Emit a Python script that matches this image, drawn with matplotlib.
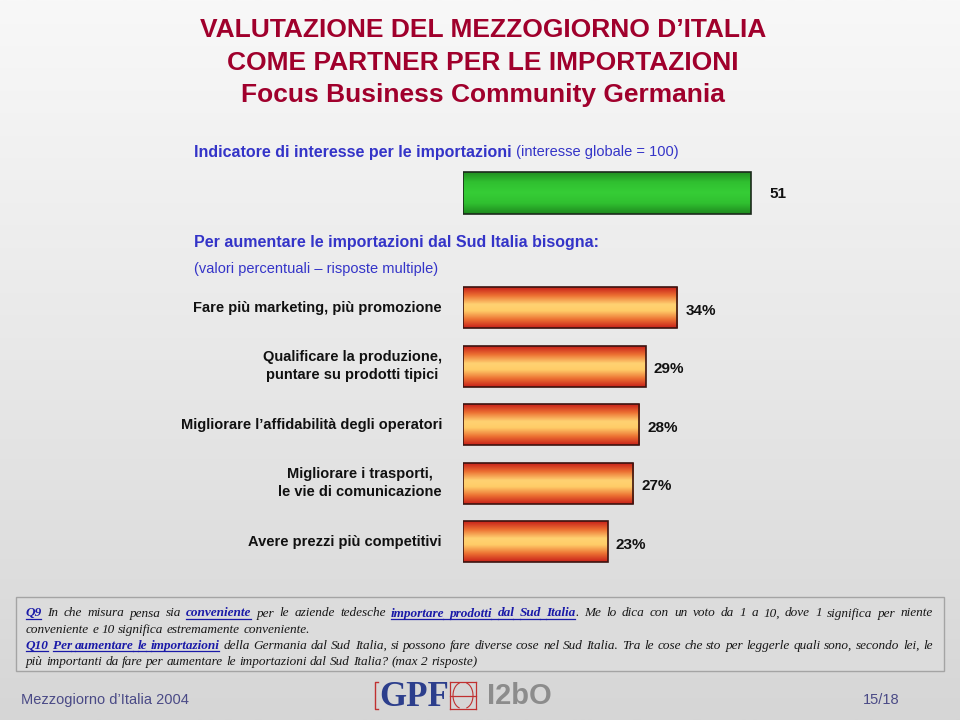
import numpy as np
import matplotlib
matplotlib.use('Agg')
import matplotlib.pyplot as plt
from matplotlib.colors import LinearSegmentedColormap
from matplotlib.patches import Rectangle

W, H = 960, 720

# ---- data ----
title_lines = ['VALUTAZIONE DEL MEZZOGIORNO D\u2019ITALIA',
               'COME PARTNER PER LE IMPORTAZIONI',
               'Focus Business Community Germania']
index_label = 'Indicatore di interesse per le importazioni'
index_note = ' (interesse globale = 100)'
index_value = [51]
section_label = 'Per aumentare le importazioni dal Sud Italia bisogna:'
section_note = '(valori percentuali \u2013 risposte multiple)'
categories = ['Fare più marketing, più promozione',
              'Qualificare la produzione,\npuntare su prodotti tipici',
              'Migliorare l\u2019affidabilità degli operatori',
              'Migliorare i trasporti,\nle vie di comunicazione',
              'Avere prezzi più competitivi']
values = [34, 29, 28, 27, 23]

# box notes: (segments, justified); 'b' = blue bold underlined
q_lines = [
    ([('Q9', 'b'), (' In che misura pensa sia ', 'n'), ('conveniente', 'b'),
      (' per le aziende tedesche ', 'n'), ('importare prodotti dal Sud Italia', 'b'),
      ('. Me lo dica con un voto da 1 a 10, dove 1 significa per niente', 'n')], True),
    ([('conveniente e 10 significa estremamente conveniente.', 'n')], False),
    ([('Q10', 'b'), (' ', 'n'), ('Per aumentare le importazioni', 'b'),
      (' della Germania dal Sud Italia, si possono fare diverse cose nel Sud Italia. '
       'Tra le cose che sto per leggerle quali sono, secondo lei, le', 'n')], True),
    ([('più importanti da fare per aumentare le importazioni dal Sud Italia? (max 2 risposte)', 'n')], False),
]
footer_left = 'Mezzogiorno d\u2019Italia 2004'
footer_right = '15/18'

SANS = 'Liberation Sans'
SERIF = 'Liberation Serif'
RED = '#a0002c'
BLUE = '#3434c8'

fig = plt.figure(figsize=(W / 100, H / 100), dpi=100)
bg = fig.add_axes([0, 0, 1, 1])
bg.axis('off')
bg_cmap = LinearSegmentedColormap.from_list('bg', ['#f8f8f8', '#e8e8e8', '#d6d6d6'])
bg.imshow(np.linspace(0, 1, 256).reshape(-1, 1), extent=[0, W, H, 0], cmap=bg_cmap,
          aspect='auto', zorder=0)
bg.set_xlim(0, W)
bg.set_ylim(H, 0)
renderer = fig.canvas.get_renderer()


def width_of(t):
    return t.get_window_extent(renderer).width


# titles
for k, line in enumerate(title_lines):
    bg.text(483, 30 + k * 32.5, line, ha='center', va='center', fontsize=19,
            fontweight='bold', color=RED, family=SANS)

# blue headings
t = bg.text(194, 152, index_label, ha='left', va='center', fontsize=11.5,
            fontweight='bold', color=BLUE, family=SANS)
bg.text(194 + width_of(t), 152, index_note, ha='left', va='center', fontsize=10.5,
        color=BLUE, family=SANS)
bg.text(194, 243, section_label, ha='left', va='center', fontsize=11.5,
        fontweight='bold', color=BLUE, family=SANS)
bg.text(194, 269, section_note, ha='left', va='center', fontsize=10.5,
        color=BLUE, family=SANS)

# ---- green index bar ----
gscale = 288 / 51.0
ax_g = fig.add_axes([463 / W, (H - 236) / H, 60 * gscale / W, 86 / H])
ax_g.patch.set_alpha(0)
ax_g.axis('off')
g_cmap = LinearSegmentedColormap.from_list('g', [(0, '#1f8a1f'), (0.25, '#30c030'),
                                                  (0.5, '#36cd36'), (0.75, '#30c030'),
                                                  (1, '#1f8a1f')])
gb = ax_g.barh([0], index_value, height=1.0, facecolor='none', edgecolor='#1c2a1c',
               linewidth=1.2, zorder=3)
for p in gb.patches:
    im = ax_g.imshow(np.linspace(0, 1, 64).reshape(-1, 1), cmap=g_cmap, aspect='auto',
                     extent=[p.get_x(), p.get_x() + p.get_width(), p.get_y(),
                             p.get_y() + p.get_height()], zorder=2)
    im.set_clip_path(p)
ax_g.set_xlim(0, 60)
ax_g.set_ylim(1, -1)
ax_g.text(index_value[0] + 18 / gscale, 0.02, str(index_value[0]), ha='left', va='center',
          fontsize=11, fontweight='bold', color='#111111', family=SANS)

# ---- orange bars ----
oscale = 6.3
pitch = 58.5
ax_o = fig.add_axes([463 / W, (H - 571) / H, 50 * oscale / W, 5 * pitch / H])
ax_o.patch.set_alpha(0)
ax_o.axis('off')
o_cmap = LinearSegmentedColormap.from_list('o', [(0, '#c8221a'), (0.2, '#ec7032'),
                                                  (0.42, '#ffcc68'), (0.58, '#ffd272'),
                                                  (0.8, '#ec7032'), (1, '#c8221a')])
ypos = np.arange(len(values))
ob = ax_o.barh(ypos, values, height=41 / pitch, facecolor='none', edgecolor='#3c1410',
               linewidth=1.2, zorder=3)
for p in ob.patches:
    im = ax_o.imshow(np.linspace(0, 1, 64).reshape(-1, 1), cmap=o_cmap, aspect='auto',
                     extent=[p.get_x(), p.get_x() + p.get_width(), p.get_y(),
                             p.get_y() + p.get_height()], zorder=2)
    im.set_clip_path(p)
ax_o.set_xlim(0, 50)
ax_o.set_ylim(len(values) - 0.5, -0.5)
for i, (lab, v) in enumerate(zip(categories, values)):
    ax_o.text(-21 / oscale, i, lab, ha='right', va='center', multialignment='center',
              fontsize=10.5, fontweight='bold', color='#111111', family=SANS,
              linespacing=1.35)
    ax_o.text(v + 8 / oscale, i + 3 / pitch, f'{v}%', ha='left', va='center',
              fontsize=11, fontweight='bold', color='#111111', family=SANS)

# ---- notes box ----
bg.add_patch(Rectangle((16, 597), 928, 74, facecolor='#dcdcdc', edgecolor='#a4a4a4',
                       linewidth=1.0, zorder=1))
QFS = 9.5
NBLUE = '#1a1aa8'


def layout_line(segs, y, justify, x_left=26, x_right=933):
    chars = []
    for txt, st in segs:
        chars += [(c, st) for c in txt]
    words, seps, cur, pend = [], [], [], None
    for c, st in chars:
        if c == ' ':
            if cur:
                words.append(cur)
                cur = []
            pend = st
            continue
        if not cur:
            seps.append(pend)
        if cur and cur[-1][1] == st:
            cur[-1][0] += c
        else:
            cur.append([c, st])
    if cur:
        words.append(cur)
    arts = []
    total = 0
    for w in words:
        wa = []
        for txt, st in w:
            if st == 'b':
                a = bg.text(0, y, txt, fontsize=QFS, family=SERIF, style='italic',
                            fontweight='bold', color=NBLUE, va='baseline', zorder=3)
            else:
                a = bg.text(0, y, txt, fontsize=QFS, family=SERIF, style='italic',
                            color='#161616', va='baseline', zorder=3)
            wd = width_of(a)
            total += wd
            wa.append((a, wd, st))
        arts.append(wa)
    gap = QFS * 0.25 * 100 / 72
    if justify and len(words) > 1:
        gap = max(1.5, (x_right - x_left - total) / (len(words) - 1))
    x = x_left
    prev_end = None
    for k, wa in enumerate(arts):
        if k > 0:
            x += gap
        if seps[k] == 'b' and prev_end is not None:
            bg.plot([prev_end, x], [y + 2.3, y + 2.3], color=NBLUE, lw=0.9, zorder=3)
        for a, wd, st in wa:
            a.set_x(x)
            if st == 'b':
                bg.plot([x, x + wd - 1], [y + 2.3, y + 2.3], color=NBLUE, lw=0.9, zorder=3)
            x += wd
        prev_end = x - 1


for k, (segs, just) in enumerate(q_lines):
    layout_line(segs, 616.5 + k * 16.3, just)

# ---- footer ----
bg.text(21, 700, footer_left, ha='left', va='center', fontsize=10.5, color='#4a4a86',
        family=SANS)
bg.text(899, 700, footer_right, ha='right', va='center', fontsize=10.5, color='#4a4a86',
        family=SANS)
# logo (text approximation)
bg.text(379, 697, 'GPF', ha='left', va='center', fontsize=25, fontweight='bold',
        family=SERIF, color='#2c3e8c')
bg.plot([378, 375, 375, 378], [682, 682, 709, 709], color='#c03030', lw=1)
bg.plot([450, 450], [682, 709], color='#c03030', lw=0.9)
bg.plot([476, 476], [682, 709], color='#c03030', lw=0.9)
bg.plot([450, 476], [695.5, 695.5], color='#c03030', lw=0.9)
bg.plot([450, 476], [682, 682], color='#c03030', lw=0.9)
bg.plot([450, 476], [709, 709], color='#c03030', lw=0.9)
th = np.linspace(-1.25, 1.25, 30)
bg.plot(462 - 9 * np.cos(th), 695.5 + 13 * np.sin(th), color='#c03030', lw=0.8)
bg.plot(464 + 9 * np.cos(th), 695.5 + 13 * np.sin(th), color='#c03030', lw=0.8)
bg.text(487, 696, 'I2bO', ha='left', va='center', fontsize=21, fontweight='bold',
        family=SANS, color='#8c8c8c')

fig.savefig('out.png', dpi=100)
